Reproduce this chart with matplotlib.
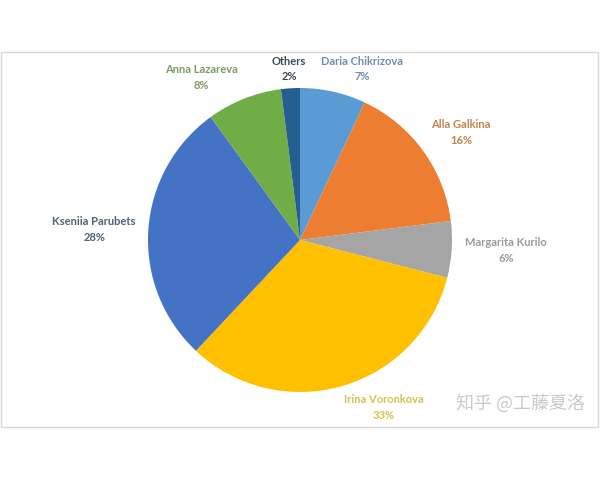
import matplotlib
matplotlib.use("Agg")
import matplotlib.pyplot as plt
from matplotlib.patches import Rectangle

# data, clockwise from 12 o'clock
names = ["Daria Chikrizova", "Alla Galkina", "Margarita Kurilo", "Irina Voronkova",
         "Kseniia Parubets", "Anna Lazareva", "Others"]
shares = [7, 16, 6, 33, 28, 8, 2]

colors = ["#5B9BD5", "#ED7D31", "#A5A5A5", "#FFC000", "#4472C4", "#70AD47", "#255E91"]
label_colors = ["#6E8DAE", "#C0834F", "#9A9A9A", "#D6C24A", "#4E6276", "#7E9C62", "#3F4954"]
# label centres in pie-radius units (Excel best-fit positions)
label_pos = [(0.41, 1.125), (1.06, 0.71), (1.355, -0.066), (0.553, -1.10),
             (-1.355, 0.066), (-0.651, 1.072), (-0.072, 1.125)]

fig = plt.figure(figsize=(6, 4.8), dpi=100)
fig.patch.set_facecolor("white")

# light border of the chart area
fig.patches.append(Rectangle((1 / 600, 1 - 427 / 480), 597 / 600, 375 / 480,
                             transform=fig.transFigure, fill=False,
                             edgecolor="#D9D9D9", linewidth=1.0))

ax = fig.add_axes([0, 0, 1, 1])
R = 152.0

ax.pie(shares, colors=colors, startangle=90, counterclock=False, radius=1.0,
       center=(0, 0), frame=True, wedgeprops=dict(linewidth=0))
ax.set_xlim(-300 / R, 300 / R)
ax.set_ylim(-240 / R, 240 / R)
ax.axis("off")

for name, val, col, (x, y) in zip(names, shares, label_colors, label_pos):
    ax.text(x, y, f"{name}\n{val}%", ha="center", va="center", color=col,
            fontsize=8, fontweight="bold", family="Lato",
            linespacing=1.55)

# site watermark
fig.text(520 / 600, 1 - 403 / 480, "知乎 @工藤夏洛", ha="center", va="center",
         color="#CACACA", fontsize=13, family=["Noto Sans CJK SC", "DejaVu Sans"])

fig.savefig("out.png", dpi=100)
